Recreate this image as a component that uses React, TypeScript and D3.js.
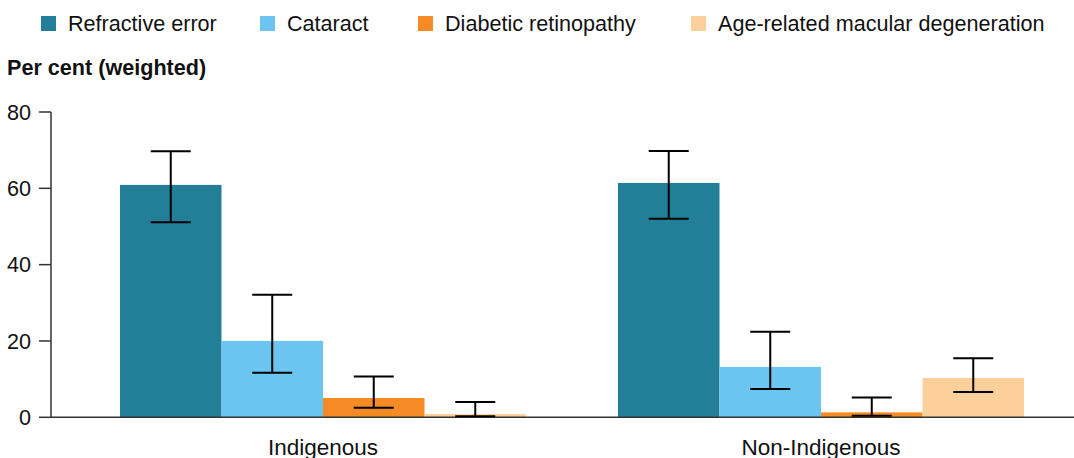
import React from "react";
import * as d3 from "d3";

const groups = ["Indigenous", "Non-Indigenous"];
const seriesNames = ["Refractive error", "Cataract", "Diabetic retinopathy", "Age-related macular degeneration"];
const seriesColors = ["#237f98", "#6bc5f0", "#f58b24", "#fdd09b"];
const refractive = [60.9, 61.4];
const refractiveLow = [51.1, 52.0];
const refractiveHigh = [69.7, 69.8];
const cataract = [20.0, 13.2];
const cataractLow = [11.7, 7.4];
const cataractHigh = [32.1, 22.4];
const diabetic = [5.06, 1.3];
const diabeticLow = [2.5, 0.4];
const diabeticHigh = [10.7, 5.2];
const amd = [0.86, 10.3];
const amdLow = [0.3, 6.6];
const amdHigh = [4.0, 15.5];
const yTicks = [0, 20, 40, 60, 80];
const legendX = [41, 260, 418, 691];

const W = 1074;
const H = 458;
const FONT = "'Liberation Sans', Arial, Helvetica, sans-serif";

export default function App() {
  const values = [refractive, cataract, diabetic, amd];
  const lows = [refractiveLow, cataractLow, diabeticLow, amdLow];
  const highs = [refractiveHigh, cataractHigh, diabeticHigh, amdHigh];

  const y = d3.scaleLinear().domain([0, 80]).range([417.3, 112]);
  const x0 = d3.scaleBand<string>().domain(groups).range([74, 1070]).paddingInner(0.1847).paddingOuter(0.09235);
  const x1 = d3.scaleBand<string>().domain(seriesNames).range([0, x0.bandwidth()]);
  const axisX = 51;
  const capHalf = 20;

  return (
    <svg width={W} height={H} style={{ position: "absolute", left: 0, top: 0, background: "#fff" }} fontFamily={FONT}>
      {/* legend */}
      {seriesNames.map((s, i) => (
        <g key={s}>
          <rect x={legendX[i]} y={16} width={15} height={15} fill={seriesColors[i]} />
          <text x={legendX[i] + 27} y={30.5} fontSize={21.6} fill="#111">{s}</text>
        </g>
      ))}
      <text x={7} y={75} fontSize={21.6} fontWeight="bold" fill="#111">Per cent (weighted)</text>

      {/* bars */}
      {groups.map((g, gi) => (
        <g key={g} transform={`translate(${x0(g)},0)`}>
          {seriesNames.map((s, si) => (
            <rect key={s} x={x1(s)} y={y(values[si][gi])} width={x1.bandwidth()} height={y(0) - y(values[si][gi])} fill={seriesColors[si]} />
          ))}
        </g>
      ))}

      {/* axes */}
      <line x1={axisX} x2={W} y1={y(0)} y2={y(0)} stroke="#333" strokeWidth={1.5} />
      <line x1={axisX} x2={axisX} y1={y(80)} y2={y(0)} stroke="#333" strokeWidth={1.5} />
      {yTicks.map((t) => (
        <g key={t}>
          <line x1={axisX - 12} x2={axisX} y1={y(t)} y2={y(t)} stroke="#333" strokeWidth={1.5} />
          <text x={31} y={y(t)} dy="0.35em" textAnchor="end" fontSize={21.6} fill="#111">{t}</text>
        </g>
      ))}

      {/* error bars */}
      {groups.map((g, gi) => (
        <g key={g} transform={`translate(${x0(g)},0)`}>
          {seriesNames.map((s, si) => {
            const cx = (x1(s) as number) + x1.bandwidth() / 2;
            return (
              <g key={s} stroke="#000" strokeWidth={2}>
                <line x1={cx} x2={cx} y1={y(highs[si][gi])} y2={y(lows[si][gi])} />
                <line x1={cx - capHalf} x2={cx + capHalf} y1={y(highs[si][gi])} y2={y(highs[si][gi])} />
                <line x1={cx - capHalf} x2={cx + capHalf} y1={y(lows[si][gi])} y2={y(lows[si][gi])} />
              </g>
            );
          })}
        </g>
      ))}

      {/* x labels */}
      {groups.map((g) => (
        <text key={g} x={(x0(g) as number) + x0.bandwidth() / 2} y={455} textAnchor="middle" fontSize={22.5} fill="#111">{g}</text>
      ))}
    </svg>
  );
}
